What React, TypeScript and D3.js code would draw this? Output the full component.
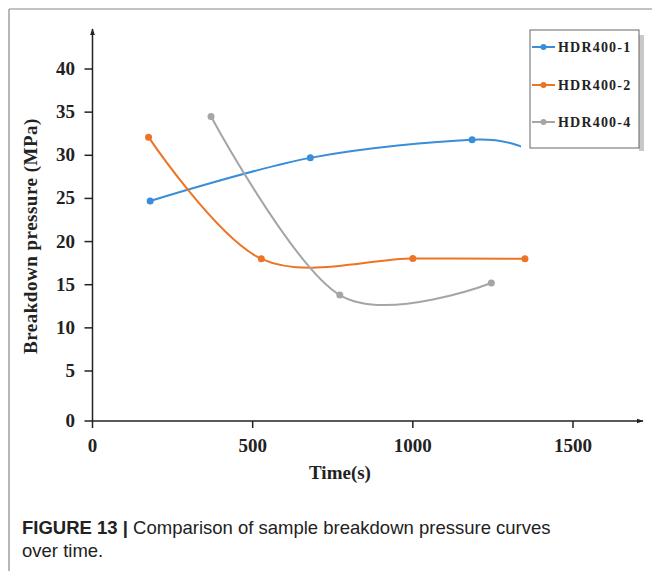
import React from "react";
import * as d3 from "d3";

const seriesNames = ["HDR400-1", "HDR400-2", "HDR400-4"];
const seriesColors = ["#3A8DD8", "#EC7424", "#A5A5A5"];
const hdr1Time = [180, 680, 1185, 1350];
const hdr1Pressure = [24.7, 29.7, 31.8, 30.8];
const hdr2Time = [175, 527, 1000, 1350];
const hdr2Pressure = [32.1, 18.0, 18.05, 18.0];
const hdr4Time = [370, 772, 1245];
const hdr4Pressure = [34.5, 13.8, 15.2];
const xTicks = [0, 500, 1000, 1500];
const yTicks = [0, 5, 10, 15, 20, 25, 30, 35, 40];

const W = 652;
const H = 571;

export default function App() {
  const x = d3.scaleLinear().domain([0, 1500]).range([92.5, 573]);
  const y = d3.scaleLinear().domain([0, 5, 40]).range([421, 371, 69]);
  const series = [
    { name: seriesNames[0], color: seriesColors[0], t: hdr1Time, v: hdr1Pressure },
    { name: seriesNames[1], color: seriesColors[1], t: hdr2Time, v: hdr2Pressure },
    { name: seriesNames[2], color: seriesColors[2], t: hdr4Time, v: hdr4Pressure },
  ];
  const line = d3
    .line<[number, number]>()
    .x((d) => x(d[0]))
    .y((d) => y(d[1]))
    .curve(d3.curveCardinal.tension(0));

  const x0 = x(0);
  const y0 = y(0);
  const serif = "'Liberation Serif', 'Times New Roman', serif";
  const sans = "'Liberation Sans', Arial, sans-serif";
  const axisColor = "#222";
  const legendY = [47, 85, 122];

  return (
    <svg
      width={W}
      height={H}
      style={{ position: "absolute", left: 0, top: 0, background: "#fff" }}
    >
      <defs>
        <marker id="arrow" viewBox="0 0 10 10" refX="9" refY="5" markerWidth="7" markerHeight="7" orient="auto" markerUnits="userSpaceOnUse">
          <path d="M0,1.5 L10,5 L0,8.5 z" fill={axisColor} />
        </marker>
      </defs>
      {/* frame */}
      <line x1={9} y1={9} x2={W} y2={9} stroke="#888" strokeWidth={1.2} />
      <line x1={9} y1={9} x2={9} y2={H} stroke="#888" strokeWidth={1.2} />

      {/* axes */}
      <line x1={x0} y1={y0} x2={x0} y2={29} stroke={axisColor} strokeWidth={1.5} markerEnd="url(#arrow)" />
      <line x1={x0} y1={y0} x2={643} y2={y0} stroke={axisColor} strokeWidth={1.5} markerEnd="url(#arrow)" />
      {yTicks.map((t) => (
        <g key={"y" + t}>
          <line x1={x0 - 8} x2={x0} y1={y(t)} y2={y(t)} stroke={axisColor} strokeWidth={1.5} />
          <text x={75} y={y(t) + 6} textAnchor="end" fontFamily={serif} fontWeight="bold" fontSize={19} fill="#222">
            {t}
          </text>
        </g>
      ))}
      {xTicks.map((t) => (
        <g key={"x" + t}>
          <line x1={x(t)} x2={x(t)} y1={y0} y2={y0 + 7} stroke={axisColor} strokeWidth={1.5} />
          <text x={x(t)} y={452} textAnchor="middle" fontFamily={serif} fontWeight="bold" fontSize={19} fill="#222">
            {t}
          </text>
        </g>
      ))}
      <text x={340} y={479} textAnchor="middle" fontFamily={serif} fontWeight="bold" fontSize={19} fill="#222">
        Time(s)
      </text>
      <text
        transform="translate(37,236) rotate(-90)"
        textAnchor="middle"
        fontFamily={serif}
        fontWeight="bold"
        fontSize={19}
        letterSpacing={0.5}
        fill="#222"
      >
        Breakdown pressure (MPa)
      </text>

      {/* series */}
      {series.map((s, si) => {
        const pts = s.t.map((t, i) => [t, s.v[i]] as [number, number]);
        return (
          <g key={s.name}>
            <path d={line(pts) || ""} fill="none" stroke={s.color} strokeWidth={2} />
            {pts.map((p, i) => (
              <circle key={i} cx={x(p[0])} cy={y(p[1])} r={3.5} fill={s.color} />
            ))}
          </g>
        );
      })}

      {/* legend (its white area hides the end of the HDR400-1 curve, as in the reference) */}
      <rect x={521} y={138} width={9} height={14} fill="#fff" />
      <rect x={639} y={35} width={5} height={116} fill="#c9c9c9" />
      <rect x={530} y={30} width={109} height={118} fill="#fff" stroke="#666" strokeWidth={1} />
      {series.map((s, i) => (
        <g key={"lg" + s.name}>
          <line x1={532} x2={555} y1={legendY[i]} y2={legendY[i]} stroke={s.color} strokeWidth={2} />
          <circle cx={543.5} cy={legendY[i]} r={3} fill={s.color} />
          <text x={558} y={legendY[i] + 5} fontFamily={serif} fontWeight="bold" fontSize={14} letterSpacing={1.2} fill="#222">
            {s.name}
          </text>
        </g>
      ))}

      {/* caption */}
      <text x={22} y={534} fontFamily={sans} fontSize={18.5} fill="#222">
        <tspan fontWeight="bold">FIGURE 13 | </tspan>
        <tspan>Comparison of sample breakdown pressure curves</tspan>
      </text>
      <text x={22} y={557} fontFamily={sans} fontSize={18.5} fill="#222">
        over time.
      </text>
    </svg>
  );
}
